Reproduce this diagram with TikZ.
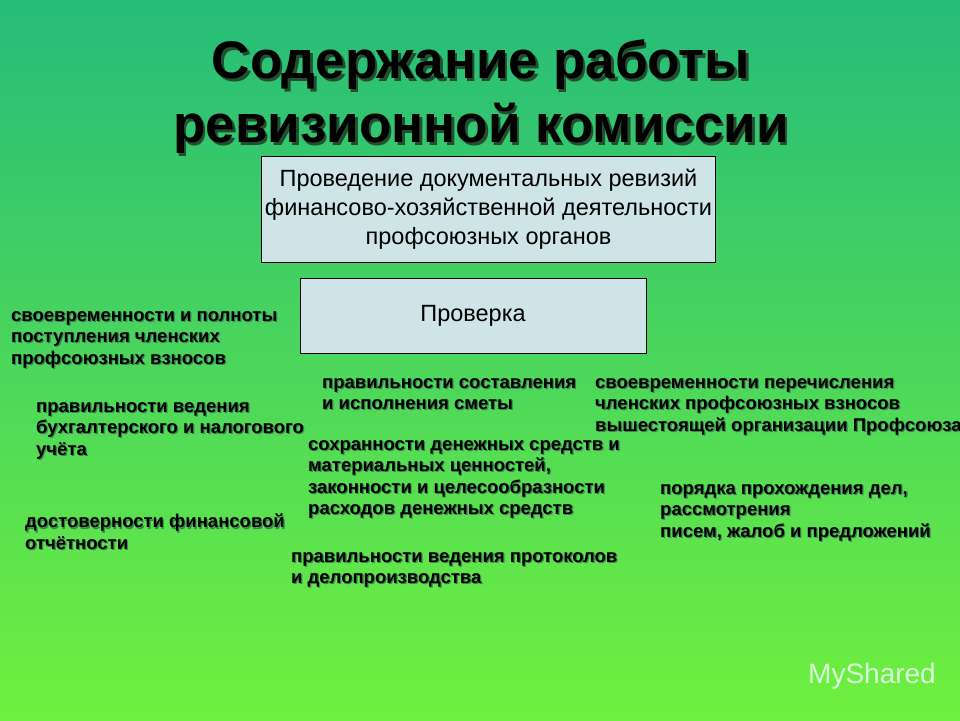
\documentclass[tikz,border=0pt]{standalone}
\usepackage{fontspec}
\setmainfont{Liberation Sans}
\definecolor{bgtop}{RGB}{38,188,122}
\definecolor{bgbot}{RGB}{112,240,62}
\definecolor{boxfill}{RGB}{206,228,230}
\definecolor{shad}{RGB}{60,130,80}
\newcommand{\shlab}[3]{%
  \node[lab,text=shad] at ([xshift=1.2pt,yshift=-1.2pt]#2) {#3};
  \node[lab] (#1) at (#2) {#3};}
\begin{document}
\begin{tikzpicture}[x=1pt,y=-1pt,
  lab/.style={anchor=north west,align=left,inner sep=0pt,font=\fontsize{18.5}{21.5}\selectfont\bfseries},
  bx/.style={draw=black,fill=boxfill,line width=0.8pt,align=center,font=\fontsize{23.5}{29}\selectfont}]
\useasboundingbox (0,0) rectangle (960,720);
\shade[top color=bgtop,bottom color=bgbot] (0,0) rectangle (960,720);
\begin{scope}
\clip (0,0) rectangle (960,720);
\node[font=\fontsize{53}{64}\selectfont\bfseries,text=shad!60!black,align=center] at (483.5,99.5) {Содержание работы\\ревизионной комиссии};
\node[font=\fontsize{53}{64}\selectfont\bfseries,align=center] (title) at (481,97) {Содержание работы\\ревизионной комиссии};
\node[bx,minimum width=453pt,minimum height=106pt] (b1) at (488.5,209) {Проведение документальных ревизий\\финансово-хозяйственной деятельности\\профсоюзных органов};
\node[bx,minimum width=346pt,minimum height=75pt,anchor=center] (b2) at (473,315.5) {Проверка};
\shlab{l1}{11,311}{своевременности и полноты\\поступления членских\\профсоюзных взносов}
\shlab{l2}{36,402}{правильности ведения\\бухгалтерского и налогового\\учёта}
\shlab{l3}{25,514}{достоверности финансовой\\отчётности}
\shlab{l4}{322,378}{правильности составления\\и исполнения сметы}
\shlab{l5}{308,440}{сохранности денежных средств и\\материальных ценностей,\\законности и целесообразности\\расходов денежных средств}
\shlab{l6}{291,552}{правильности ведения протоколов\\и делопроизводства}
\shlab{l7}{595,378}{своевременности перечисления\\членских профсоюзных взносов\\вышестоящей организации Профсоюза}
\shlab{l8}{660,484}{порядка прохождения дел,\\рассмотрения\\писем, жалоб и предложений}
\node[text=white!85!green,font=\fontsize{28}{32}\selectfont] (wm) at (872,676) {MyShared};
\end{scope}
\end{tikzpicture}
\end{document}
